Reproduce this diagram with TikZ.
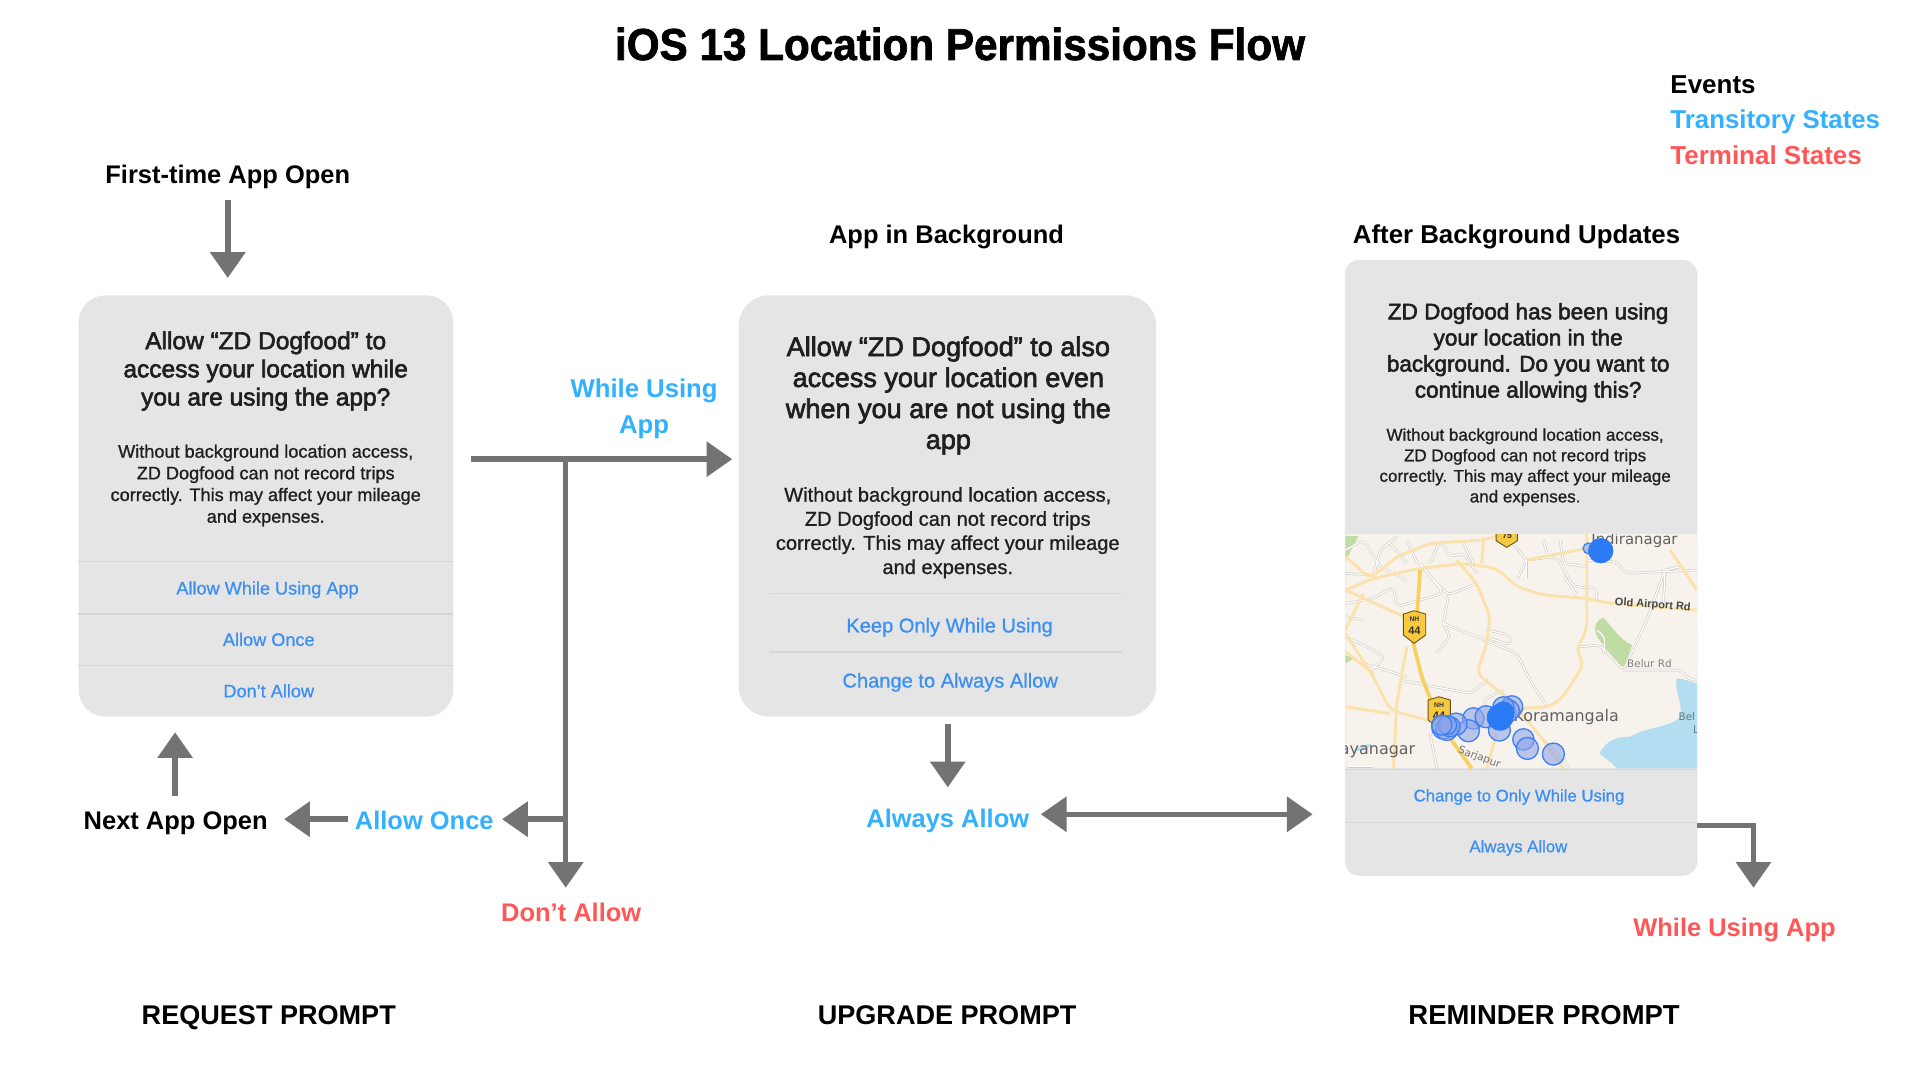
\documentclass[tikz,border=0pt]{standalone}
\usepackage{fontspec}
\setmainfont{Liberation Sans}
\newfontfamily\mapfont{DejaVu Sans}
\newfontfamily\medfont[FakeBold=2.4]{Liberation Sans}
\newfontfamily\regfont[FakeBold=0.9]{Liberation Sans}
\newfontfamily\titlefont[FakeStretch=0.945,FakeBold=1.6]{Liberation Sans Bold}
\usetikzlibrary{arrows.meta}
\definecolor{cardgrey}{HTML}{E5E5E5}
\definecolor{divgrey}{HTML}{D6D6D6}
\definecolor{arrowgrey}{HTML}{737373}
\definecolor{btnblue}{HTML}{3D8FF2}
\definecolor{transblue}{HTML}{33B1FF}
\definecolor{termred}{HTML}{FF5757}
\definecolor{mapbg}{HTML}{F7F3EC}
\definecolor{roadyel}{HTML}{FBE2AC}
\definecolor{hwy}{HTML}{F8D060}
\definecolor{roadcase}{HTML}{CFCBC5}
\definecolor{parkgreen}{HTML}{BFDDA2}
\definecolor{water}{HTML}{B3DDF0}
\definecolor{shield}{HTML}{F8C93E}
\definecolor{dotblue}{HTML}{2C7BF6}
\definecolor{dotline}{HTML}{4080F5}
\definecolor{dotfill}{HTML}{8FA5EA}
\newcommand{\lanepaths}[1]{%
\draw[#1] (340,310) -- (470,362) -- (560,400) -- (600,480) -- (650,560);
\draw[#1] (46,250) -- (130,235) -- (190,200) -- (200,260) -- (340,220) -- (270,130);
\draw[#1] (210,480) -- (420,520) -- (475,480);
\draw[#1] (750,380) -- (810,375) -- (880,450) -- (950,300) -- (1005,150) -- (1000,250);
\draw[#1] (770,120) -- (860,125) -- (885,160) -- (1100,150);
\draw[#1] (130,170) -- (150,90) -- (200,50);
\draw[#1] (300,130) -- (330,60) -- (360,110) -- (400,100) -- (440,160);
\draw[#1] (46,350) -- (110,380) -- (165,410) -- (120,455);
\draw[#1] (46,90) -- (100,60) -- (150,140) -- (230,180);
\draw[#1] (590,120) -- (680,110) -- (730,200) -- (800,205) -- (800,240);
\draw[#1] (690,60) -- (700,130) -- (770,140);
\draw[#1] (470,330) -- (540,345) -- (545,375) -- (480,355);
\draw[#1] (800,330) -- (825,350) -- (820,400);
\draw[#1] (880,450) -- (1050,450) -- (1080,480) -- (1100,480);
\draw[#1] (340,310) -- (360,350) -- (320,400);
\draw[#1] (50,740) -- (130,740);
\draw[#1] (520,510) -- (460,540) -- (470,580);
\draw[#1] (300,640) -- (320,745);
\draw[#1] (640,660) -- (710,730) -- (715,745);
\draw[#1] (180,70) -- (230,130);
\draw[#1] (230,60) -- (262,130);
\draw[#1] (400,70) -- (430,130);
\draw[#1] (540,60) -- (590,120) -- (560,180);
\draw[#1] (590,120) -- (590,175);
\draw[#1] (650,100) -- (640,60);
\draw[#1] (100,430) -- (230,470);
\draw[#1] (270,135) -- (320,190) -- (355,225) -- (440,190);
\draw[#1] (355,225) -- (340,310);
\draw[#1] (46,160) -- (130,165);
\draw[#1] (46,290) -- (100,300);
\draw[#1] (700,165) -- (740,225);
\draw[#1] (1005,150) -- (1050,140);
}
\tikzset{
  lbl/.style={font=\fontsize{#1}{#1}\selectfont\bfseries,inner sep=0pt,anchor=base},
  lbl/.default=20.8,
  flow/.style={draw=arrowgrey,line width=4.5pt,-{Triangle[length=21pt,width=28pt]}},
  flowboth/.style={draw=arrowgrey,line width=4.5pt,{Triangle[length=21pt,width=28pt]}-{Triangle[length=21pt,width=28pt]}},
  card/.style={fill=cardgrey,draw=none,inner sep=0pt,anchor=north west},
  divide/.style={draw=divgrey,line width=1pt},
  ctext/.style={inner sep=0pt,align=center,text=black!88},
  btn/.style={inner sep=0pt,text=btnblue,anchor=base},
  road/.style={draw=roadyel,line width=2.4pt,line join=round,rounded corners=6pt},
  lane/.style={draw=roadcase,line width=2pt,line join=round,rounded corners=4pt},
  laneinner/.style={draw=white,line width=1pt,line join=round,rounded corners=4pt},
  ping/.style={fill=dotfill,fill opacity=.6,draw=dotline,line width=1.1pt},
  maplabel/.style={inner sep=0pt,text=black!62,font=\mapfont\fontsize{#1}{#1}\selectfont},
  maplabel/.default=11.5,
}
\begin{document}
\begin{tikzpicture}[x=1pt,y=-1pt]
\useasboundingbox (0,0) rectangle (1568,882);
\fill[white] (0,0) rectangle (1568,882);

% title and legend
\node[inner sep=0pt,anchor=base,font=\titlefont\fontsize{36.5}{36.5}\selectfont] (title) at (784,49) {iOS 13 Location Permissions Flow};
\node[lbl=21.2,anchor=base west] (ev) at (1364,76) {Events};
\node[lbl=21.1,anchor=base west,text=transblue] (ts) at (1364,105) {Transitory States};
\node[lbl=21.2,anchor=base west,text=termred] (te) at (1364,134) {Terminal States};

% section labels
\node[lbl] (first) at (186,149.5) {First-time App Open};
\node[lbl] (bg) at (773,198.5) {App in Background};
\node[lbl=21.1] (after) at (1238.5,198.5) {After Background Updates};
\node[lbl=22.1] (req) at (219.5,837) {REQUEST PROMPT};
\node[lbl=22.1] (upg) at (773.5,837) {UPGRADE PROMPT};
\node[lbl=22.4] (rem) at (1261,837) {REMINDER PROMPT};

% card 1
\node[card,minimum width=306pt,minimum height=344pt,rounded corners=22pt] (c1) at (64,241) {};
\node[ctext,font=\medfont\fontsize{20}{23}\selectfont] (c1t) at (217,303) {Allow “ZD Dogfood” to\\access your location while\\you are using the app?};
\node[ctext,font=\regfont\fontsize{14.8}{17.7}\selectfont] (c1b) at (217,396.5) {Without background location access,\\ZD Dogfood can not record trips\\correctly. This may affect your mileage\\and expenses.};
\draw[divide] (64,458.5) -- (370,458.5);
\draw[divide] (64,501.5) -- (370,501.5);
\draw[divide] (64,543.5) -- (370,543.5);
\node[btn,font=\regfont\fontsize{14.8}{17}\selectfont] (c1a) at (218.5,485.5) {Allow While Using App};
\node[btn,font=\regfont\fontsize{14.8}{17}\selectfont] (c1o) at (219.5,527.5) {Allow Once};
\node[btn,font=\regfont\fontsize{14.8}{17}\selectfont] (c1d) at (219.5,569.5) {Don’t Allow};

% card 2
\node[card,minimum width=341pt,minimum height=344pt,rounded corners=25pt] (c2) at (603,241) {};
\node[ctext,font=\medfont\fontsize{22.1}{25.3}\selectfont] (c2t) at (774.5,323) {Allow “ZD Dogfood” to also\\access your location even\\when you are not using the\\app};
\node[ctext,font=\regfont\fontsize{16.4}{19.7}\selectfont] (c2b) at (774,435) {Without background location access,\\ZD Dogfood can not record trips\\correctly. This may affect your mileage\\and expenses.};
\draw[divide] (628,484.5) -- (916,484.5);
\draw[divide] (628,532.5) -- (916,532.5);
\node[btn,font=\regfont\fontsize{16.4}{19}\selectfont] (c2k) at (775.5,516.5) {Keep Only While Using};
\node[btn,font=\regfont\fontsize{16.4}{19}\selectfont] (c2c) at (776,561.5) {Change to Always Allow};

% card 3
\node[card,minimum width=288pt,minimum height=503pt,rounded corners=12pt] (c3) at (1098,212) {};
\node[ctext,font=\medfont\fontsize{18.4}{21.3}\selectfont] (c3t) at (1248,288) {ZD Dogfood has been using\\your location in the\\background. Do you want to\\continue allowing this?};
\node[ctext,font=\regfont\fontsize{13.9}{16.8}\selectfont] (c3b) at (1245.5,381.5) {Without background location access,\\ZD Dogfood can not record trips\\correctly. This may affect your mileage\\and expenses.};

% map, drawn in its own 3.673x coordinates
\begin{scope}[shift={(1086.2,424.7)},x=0.27226pt,y=-0.27226pt]
\begin{scope}
\clip (46,43) rectangle (1100,745);
\fill[mapbg] (46,43) rectangle (1100,745);
% parks and water
\fill[parkgreen] (46,48) -- (85,48) -- (46,125) -- cycle;
\fill[parkgreen] (46,405) -- (72,415) -- (46,430) -- cycle;
\fill[parkgreen] (820,292) .. controls (800,300) and (790,320) .. (797,340) .. controls (810,370) and (850,410) .. (880,445) -- (906,375) .. controls (870,360) and (845,320) .. cycle;
\fill[water] (1040,475) .. controls (1030,510) and (1060,550) .. (1050,590) .. controls (1030,620) and (950,620) .. (900,650) .. controls (860,650) and (830,660) .. (808,700) .. controls (830,720) and (850,730) .. (860,745) -- (1100,745) -- (1100,490) .. controls (1080,485) and (1060,475) .. cycle;
\fill[water] (70,690) .. controls (90,680) and (105,672) .. (125,672) .. controls (110,690) and (90,695) .. cycle;
% lanes
\lanepaths{lane}
\lanepaths{laneinner}
% yellow roads
\draw[road] (46,210) -- (130,175) -- (270,145) -- (400,130) -- (500,145) -- (560,200) -- (640,225) -- (770,235) -- (840,250) -- (1100,270);
\draw[road] (46,110) -- (120,175) -- (200,110) -- (300,70) -- (460,60) -- (510,45);
\draw[road] (770,43) -- (770,235) -- (770,330) -- (738,390) -- (762,430) -- (700,530) -- (660,560) -- (570,565);
\draw[road] (380,120) -- (440,190) -- (480,290) -- (470,370) -- (440,460) -- (540,540) -- (640,660) -- (700,745);
\draw[road] (100,220) -- (46,330);
\draw[road] (46,340) -- (130,470) -- (180,570) -- (290,600);
\draw[road] (230,380) -- (200,550) -- (190,745);
\draw[road] (46,560) -- (180,580);
\draw[road] (500,640) -- (470,745);
\draw[road] (1020,90) -- (1100,210);
\draw[road] (590,120) -- (770,85);
\draw[road] (460,60) -- (455,130);
\draw[road] (46,395) -- (130,460);
\draw[road] (46,210) -- (200,280) -- (225,290);
% highway
\draw[draw=hwy,line width=3pt,line join=round] (270,150) -- (262,270) -- (250,370) -- (275,470) -- (310,560) -- (350,640) -- (425,745);
% shields
\path[fill=shield,draw=black!60!shield,line width=.7pt] (220,282) -- (252,272) -- (287,282) -- (287,345) -- (252,370) -- (220,345) -- cycle;
\node[inner sep=0pt,font=\bfseries\fontsize{5.5}{5.5}\selectfont,text=black!80] (s1a) at (253,298) {NH};
\node[inner sep=0pt,font=\bfseries\fontsize{9}{9}\selectfont,text=black!80] (s1b) at (253,333) {44};
\path[fill=shield,draw=black!60!shield,line width=.7pt] (294,540) -- (327,530) -- (361,540) -- (361,600) -- (327,625) -- (294,600) -- cycle;
\node[inner sep=0pt,font=\bfseries\fontsize{5.5}{5.5}\selectfont,text=black!80] (s2a) at (327,556) {NH};
\node[inner sep=0pt,font=\bfseries\fontsize{9}{9}\selectfont,text=black!80] (s2b) at (327,588) {44};
\path[fill=shield,draw=black!60!shield,line width=.7pt] (498,30) -- (562,30) -- (562,62) -- (530,82) -- (498,62) -- cycle;
\node[inner sep=0pt,font=\bfseries\fontsize{7}{7}\selectfont,text=black!80] (s3) at (531,47) {75};
% labels
\node[maplabel=12.2,anchor=west] (m1) at (783,62) {Indiranagar};
\node[maplabel=8.5,rotate=-4,font=\bfseries\fontsize{9}{9}\selectfont,text=black!72] (m2) at (968,255) {Old Airport Rd};
\node[maplabel=8.5,text=black!50] (m3) at (958,430) {Belur Rd};
\node[maplabel=13,anchor=west] (m4) at (550,590) {Koramangala};
\node[maplabel=13,anchor=east] (m5) at (256,692) {Jayanagar};
\node[maplabel=8.5,rotate=-20,anchor=west,text=black!55] (m6) at (385,690) {Sarjapur};
\node[maplabel=8.5,anchor=west,text=black!45!water] (m7) at (1045,590) {Bel};
\node[maplabel=8.5,anchor=west,text=black!45!water] (m8) at (1088,630) {L};
% location pings
\foreach \px/\py/\pr in {775/85/16,545/560/33,535/572/33,520/562/32,430/595/32,468/590/33,415/632/33,508/630/33,580/658/32,592/685/33,670/702/33,378/612/33,340/622/35,350/628/33,360/620/30,352/615/28,335/615/30}{
  \path[ping] (\px,\py) circle[radius=\pr*0.27226pt];
}
\foreach \px/\py/\pr in {812/92/38,510/592/40,520/578/34}{
  \fill[dotblue] (\px,\py) circle[radius=\pr*0.27226pt];
}
\end{scope}
\end{scope}

\draw[divide] (1098,628.5) -- (1386,628.5);
\draw[divide] (1098,671.5) -- (1386,671.5);
\node[btn,font=\regfont\fontsize{13.7}{16}\selectfont] (c3k) at (1240.5,654.5) {Change to Only While Using};
\node[btn,font=\regfont\fontsize{13.7}{16}\selectfont] (c3a) at (1240,696) {Always Allow};

% outcome labels
\node[inner sep=0pt,text=transblue,align=center,font=\fontsize{21}{29.5}\selectfont\bfseries] (wu) at (526,334) {While Using\\App};
\node[lbl] (next) at (143.5,677.5) {Next App Open};
\node[lbl,text=transblue] (once) at (346.5,677.5) {Allow Once};
\node[lbl,text=termred] (dont) at (466.5,752.5) {Don't Allow};
\node[lbl,text=transblue] (always) at (774,675.5) {Always Allow};
\node[lbl,text=termred] (while) at (1416.5,764.5) {While Using App};

% connector ends
\coordinate (a1s) at (186,163);
\coordinate (a1e) at (186,227);
\coordinate (m0) at (385,375);
\coordinate (mj) at (462,375);
\coordinate (m1e) at (598,375);
\coordinate (d1) at (462,725);
\coordinate (bj) at (462,669);
\coordinate (b1) at (410,669);
\coordinate (n0) at (284,669);
\coordinate (n1) at (232,669);
\coordinate (u0) at (143,650);
\coordinate (u1) at (143,598);
\coordinate (g0) at (774,591);
\coordinate (g1) at (774,643);
\coordinate (h0) at (850,665);
\coordinate (h1) at (1072,665);
\coordinate (r0) at (1386,674);
\coordinate (r1) at (1432,674);
\coordinate (r2) at (1432,725);

\draw[flow] (a1s) -- (a1e);
\draw[flow] (m0) -- (m1e);
\draw[flow] (mj) -- (d1);
\draw[flow] (bj) -- (b1);
\draw[flow] (n0) -- (n1);
\draw[flow] (u0) -- (u1);
\draw[flow] (g0) -- (g1);
\draw[flowboth] (h0) -- (h1);
\draw[flow,line join=miter] (r0) -- (r1) -- (r2);
\end{tikzpicture}
\end{document}
